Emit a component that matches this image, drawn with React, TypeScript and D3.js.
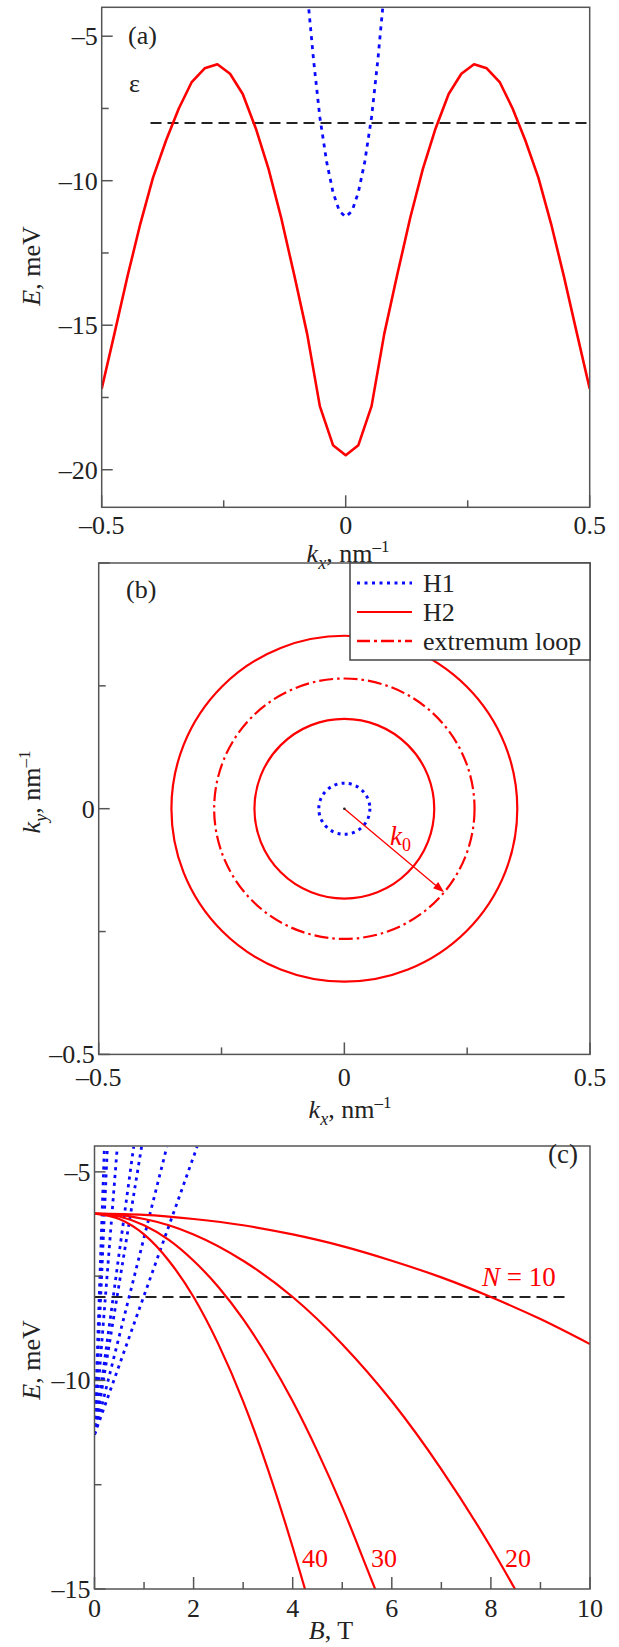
import React from "react";
import * as d3 from "d3";

const W = 619;
const H = 1647;
const FONT = "Liberation Serif, Tinos, DejaVu Serif, serif";
const RED = "#ff0000";
const BLUE = "#0a0aff";
const INK = "#222";
const FRAME = "#555";

// ---- (a) dispersion E(kx)
const kA = [-0.5, -0.474, -0.447, -0.421, -0.395, -0.368, -0.342, -0.316, -0.289, -0.263, -0.237, -0.211, -0.184, -0.158, -0.132, -0.105, -0.079, -0.053, -0.026, 0,
  0.026, 0.053, 0.079, 0.105, 0.132, 0.158, 0.184, 0.211, 0.237, 0.263, 0.289, 0.316, 0.342, 0.368, 0.395, 0.421, 0.447, 0.474, 0.5];
const h2A = [-17.2, -15.3, -13.3, -11.5, -9.9, -8.6, -7.5, -6.6, -6.11, -5.97, -6.3, -7.0, -8.2, -9.6, -11.3, -13.3, -15.3, -17.8, -19.15, -19.5,
  -19.15, -17.8, -15.3, -13.3, -11.3, -9.6, -8.2, -7.0, -6.3, -5.97, -6.11, -6.6, -7.5, -8.6, -9.9, -11.5, -13.3, -15.3, -17.2];
const kH1A = [-0.079, -0.066, -0.053, -0.039, -0.026, -0.013, 0, 0.013, 0.026, 0.039, 0.053, 0.066, 0.079];
const h1A = [-3.45, -5.8, -7.8, -9.35, -10.4, -11.05, -11.25, -11.05, -10.4, -9.35, -7.8, -5.8, -3.45];
const epsA = -8;
const epsKA = [-0.4, 0.5];

// ---- (b) constant-energy contours
const h1Radii = [0.052];
const h2Radii = [0.183, 0.352];
const loopRadii = [0.265];
const k0End = [0.203, -0.17];
const legendLabels = ["H1", "H2", "extremum loop"];

// ---- (c) Landau levels E(B)
const n10B = [0, 1, 2, 3, 4, 5, 6, 7, 8, 9, 10];
const n10E = [-6.0, -6.03, -6.13, -6.28, -6.5, -6.78, -7.13, -7.53, -8.0, -8.53, -9.13];
const n20B = [0, 0.5, 1, 1.5, 2, 3, 4, 5, 6, 7, 8, 8.5];
const n20E = [-6.0, -6.03, -6.13, -6.28, -6.5, -7.13, -8.0, -9.13, -10.5, -12.13, -14.0, -15.03];
const n30B = [0, 0.5, 1, 1.5, 2, 2.5, 3, 3.5, 4, 4.5, 5, 5.5, 5.68];
const n30E = [-6.0, -6.07, -6.28, -6.63, -7.13, -7.76, -8.53, -9.45, -10.5, -11.7, -13.03, -14.51, -15.05];
const n40B = [0, 0.5, 1, 1.5, 2, 2.5, 3, 3.5, 4, 4.26];
const n40E = [-6.0, -6.13, -6.5, -7.13, -8.0, -9.13, -10.5, -12.13, -14.0, -15.05];
const h1StartE = -11.3;
const h1TopB = [0.2, 0.26, 0.46, 0.79, 0.95, 1.46, 2.07];
const h1TopE = -4.4;
const epsC = -8;
const epsBC = [0, 9.55];

const fmt = (v: number) => (v < 0 ? "\u2013" + Math.abs(v) : String(v));

function T(props: any) {
  return <text fontFamily={FONT} fontSize={26} fill={INK} {...props} />;
}

function Frame({ x, y, xMajor, xMinor, yMajor, yMinor, xLabels, yLabels, xLabelY }: any) {
  const [x0, x1] = x.range();
  const [yb, yt] = y.range();
  const tick = { stroke: FRAME, strokeWidth: 1.5 };
  return (
    <g>
      <rect x={x0} y={yt} width={x1 - x0} height={yb - yt} fill="none" stroke={FRAME} strokeWidth={1.5} />
      {xMajor.map((v: number) => <line key={"xM" + v} x1={x(v)} x2={x(v)} y1={yb} y2={yb - 12} {...tick} />)}
      {xMinor.map((v: number) => <line key={"xm" + v} x1={x(v)} x2={x(v)} y1={yb} y2={yb - 7} {...tick} />)}
      {yMajor.map((v: number) => <line key={"yM" + v} x1={x0} x2={x0 + 11} y1={y(v)} y2={y(v)} {...tick} />)}
      {yMinor.map((v: number) => <line key={"ym" + v} x1={x0} x2={x0 + 7} y1={y(v)} y2={y(v)} {...tick} />)}
      {xLabels.map((v: number) => (
        <T key={"xl" + v} x={x(v)} y={xLabelY} textAnchor="middle">{fmt(v)}</T>
      ))}
      {yLabels.map((v: number) => (
        <T key={"yl" + v} x={x0 - 4} y={y(v)} dy="0.34em" textAnchor="end">{fmt(v)}</T>
      ))}
    </g>
  );
}

function KLabel({ x, y, sub, rotate }: any) {
  return (
    <T transform={`translate(${x},${y})${rotate ? " rotate(-90)" : ""}`} textAnchor="middle">
      <tspan fontStyle="italic">k</tspan><tspan fontStyle="italic" fontSize={18} dy={7}>{sub}</tspan>
      <tspan dy={-7}>, nm</tspan><tspan fontSize={17} dy={-10}>–1</tspan>
    </T>
  );
}

function PanelA() {
  const x = d3.scaleLinear().domain([-0.5, 0.5]).range([101.7, 589.7]);
  const y = d3.scaleLinear().domain([-21.3, -4]).range([507.3, 7.3]);
  const line = d3.line<number>().x((_, i) => x(kA[i])).y((d) => y(d));
  const lineH1 = d3.line<number>().x((_, i) => x(kH1A[i])).y((d) => y(d));
  return (
    <g>
      <defs>
        <clipPath id="clipA"><rect x={101.7} y={7.3} width={488} height={500} /></clipPath>
      </defs>
      <g clipPath="url(#clipA)">
        <line x1={x(epsKA[0])} x2={x(epsKA[1])} y1={y(epsA)} y2={y(epsA)} stroke={INK} strokeWidth={2} strokeDasharray="11,6" />
        <path d={line(h2A) || ""} fill="none" stroke={RED} strokeWidth={2.6} strokeLinejoin="round" />
        <path d={lineH1(h1A) || ""} fill="none" stroke={BLUE} strokeWidth={2.8} strokeDasharray="4,5" />
      </g>
      <Frame x={x} y={y} xMajor={[-0.5, 0, 0.5]} xMinor={[-0.25, 0.25]} yMajor={[-20, -15, -10, -5]} yMinor={[-17.5, -12.5, -7.5]}
        xLabels={[-0.5, 0, 0.5]} yLabels={[-20, -15, -10, -5]} xLabelY={534} />
      <T x={128} y={44}>(a)</T>
      <T x={129} y={92}>ε</T>
      <KLabel x={348} y={562} sub="x" />
      <T transform="translate(40,266) rotate(-90)" textAnchor="middle">
        <tspan fontStyle="italic">E</tspan>, meV
      </T>
    </g>
  );
}

function PanelB() {
  const x = d3.scaleLinear().domain([-0.5, 0.5]).range([98.7, 590]);
  const y = d3.scaleLinear().domain([-0.5, 0.5]).range([1054.4, 563]);
  const r = (v: number) => x(v) - x(0);
  const cx = x(0);
  const cy = y(0);
  const ex = x(k0End[0]);
  const ey = y(k0End[1]);
  const ang = Math.atan2(ey - cy, ex - cx);
  const ah = 11;
  const aw = 4;
  const head = [
    [ex, ey],
    [ex - ah * Math.cos(ang) + aw * Math.sin(ang), ey - ah * Math.sin(ang) - aw * Math.cos(ang)],
    [ex - ah * Math.cos(ang) - aw * Math.sin(ang), ey - ah * Math.sin(ang) + aw * Math.cos(ang)],
  ];
  const legendStyles = [
    { stroke: BLUE, dash: "3,4.5", w: 3 },
    { stroke: RED, dash: undefined, w: 2 },
    { stroke: RED, dash: "13,4,3,4", w: 2.5 },
  ];
  return (
    <g>
      {h2Radii.map((v) => <circle key={"h2" + v} cx={cx} cy={cy} r={r(v)} fill="none" stroke={RED} strokeWidth={2.2} />)}
      {loopRadii.map((v) => <circle key={"lp" + v} cx={cx} cy={cy} r={r(v)} fill="none" stroke={RED} strokeWidth={2.2} strokeDasharray="14,4,2.5,4" />)}
      {h1Radii.map((v) => <circle key={"h1" + v} cx={cx} cy={cy} r={r(v)} fill="none" stroke={BLUE} strokeWidth={3} strokeDasharray="3,4.3" />)}
      <line x1={cx} y1={cy} x2={ex - 6 * Math.cos(ang)} y2={ey - 6 * Math.sin(ang)} stroke={RED} strokeWidth={1.3} />
      <polygon points={head.map((p) => p.join(",")).join(" ")} fill={RED} />
      <circle cx={cx} cy={cy} r={1.3} fill={INK} />
      <T x={390} y={845} fontSize={27} fill={RED} fontStyle="italic">k<tspan fontStyle="normal" fontSize={18} dy={6}>0</tspan></T>
      <Frame x={x} y={y} xMajor={[-0.5, 0, 0.5]} xMinor={[-0.25, 0.25]} yMajor={[-0.5, 0, 0.5]} yMinor={[-0.25, 0.25]}
        xLabels={[-0.5, 0, 0.5]} yLabels={[-0.5, 0]} xLabelY={1086} />
      <g>
        <rect x={350} y={563} width={240} height={97} fill="white" stroke="#444" strokeWidth={1.5} />
        {legendLabels.map((lab, i) => (
          <g key={lab}>
            <line x1={357} x2={412} y1={583 + i * 29} y2={583 + i * 29} stroke={legendStyles[i].stroke}
              strokeWidth={legendStyles[i].w} strokeDasharray={legendStyles[i].dash} />
            <T x={423} y={592 + i * 29}>{lab}</T>
          </g>
        ))}
      </g>
      <T x={126} y={598}>(b)</T>
      <KLabel x={350} y={1118} sub="x" />
      <KLabel x={40} y={792} sub="y" rotate />
    </g>
  );
}

function PanelC() {
  const x = d3.scaleLinear().domain([0, 10]).range([94.5, 590]);
  const y = d3.scaleLinear().domain([-15, -4.38]).range([1589, 1146]);
  const curve = (bs: number[], es: number[]) =>
    d3.line<number>().x((_, i) => x(bs[i])).y((d) => y(d)).curve(d3.curveMonotoneX)(es) || "";
  const reds = [
    { b: n10B, e: n10E },
    { b: n20B, e: n20E },
    { b: n30B, e: n30E },
    { b: n40B, e: n40E },
  ];
  return (
    <g>
      <defs>
        <clipPath id="clipC"><rect x={94.5} y={1146} width={495.5} height={443} /></clipPath>
      </defs>
      <g clipPath="url(#clipC)">
        <line x1={x(epsBC[0])} x2={x(epsBC[1])} y1={y(epsC)} y2={y(epsC)} stroke={INK} strokeWidth={2} strokeDasharray="11,6" />
        {h1TopB.map((b) => (
          <line key={"h1" + b} x1={x(0)} y1={y(h1StartE)} x2={x(b)} y2={y(h1TopE)} stroke={BLUE} strokeWidth={2.8} strokeDasharray="3.2,4.6" />
        ))}
        {reds.map((s, i) => <path key={i} d={curve(s.b, s.e)} fill="none" stroke={RED} strokeWidth={2.2} />)}
      </g>
      <Frame x={x} y={y} xMajor={[0, 2, 4, 6, 8, 10]} xMinor={[1, 3, 5, 7, 9]} yMajor={[-15, -10, -5]} yMinor={[-12.5, -7.5]}
        xLabels={[0, 2, 4, 6, 8, 10]} yLabels={[-15, -10, -5]} xLabelY={1617} />
      <T x={548} y={1163} fontSize={27}>(c)</T>
      <T x={482} y={1286} fontSize={27} fill={RED}><tspan fontStyle="italic">N</tspan> = 10</T>
      <T x={302} y={1567} fill={RED}>40</T>
      <T x={371} y={1567} fill={RED}>30</T>
      <T x={505} y={1567} fill={RED}>20</T>
      <T x={331} y={1639} textAnchor="middle">
        <tspan fontStyle="italic">B</tspan>, T
      </T>
      <T transform="translate(40,1360) rotate(-90)" textAnchor="middle">
        <tspan fontStyle="italic">E</tspan>, meV
      </T>
    </g>
  );
}

export default function App() {
  return (
    <svg width={W} height={H} viewBox={`0 0 ${W} ${H}`}
      style={{ position: "absolute", left: 0, top: 0, background: "white" }}>
      <rect width={W} height={H} fill="white" />
      <PanelA />
      <PanelB />
      <PanelC />
    </svg>
  );
}
